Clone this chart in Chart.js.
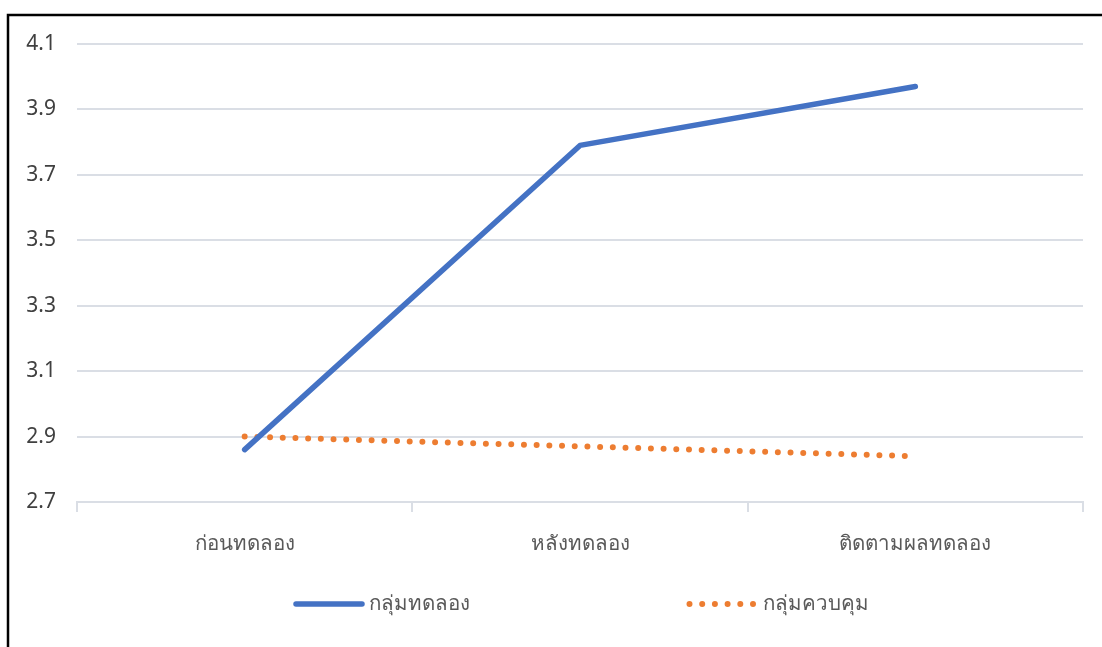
<!DOCTYPE html>
<html>
<head>
<meta charset="utf-8">
<script src="https://cdn.jsdelivr.net/npm/chart.js@4"></script>
<style>
  html, body { margin: 0; padding: 0; background: #ffffff; }
  #wrap { position: relative; width: 1102px; height: 647px; }
  canvas { display: block; }
</style>
</head>
<body>
<div id="wrap"><canvas id="c" width="1102" height="647"></canvas></div>
<script>
// Mean scores per phase
const categories = ['ก่อนทดลอง', 'หลังทดลอง', 'ติดตามผลทดลอง'];
const experimentalGroup = [2.86, 3.79, 3.97];
const controlGroup = [2.90, 2.87, 2.84];
const seriesNames = ['กลุ่มทดลอง', 'กลุ่มควบคุม'];
const yTicks = [2.7, 2.9, 3.1, 3.3, 3.5, 3.7, 3.9, 4.1];

const FONT = "'Segoe UI', 'Noto Sans', 'DejaVu Sans', sans-serif";
const TEXT = '#595959';
const NUM_TEXT = '#404040';
const GRID = '#dadee5';

// Outer frame (top and left edges) plus a centred legend below the axis
const framePlugin = {
  id: 'frame',
  beforeDraw(chart) {
    const ctx = chart.ctx;
    ctx.save();
    ctx.fillStyle = '#ffffff';
    ctx.fillRect(0, 0, chart.width, chart.height);
    ctx.strokeStyle = '#000000';
    ctx.lineWidth = 2.5;
    ctx.beginPath();
    ctx.moveTo(8, chart.height);
    ctx.lineTo(8, 15);
    ctx.lineTo(chart.width, 15);
    ctx.stroke();
    ctx.restore();
  }
};

const legendPlugin = {
  id: 'bottomLegend',
  afterDraw(chart) {
    const ctx = chart.ctx;
    const area = chart.chartArea;
    const centre = (area.left + area.right) / 2;
    const y = 604;
    const lineLen = 70;
    ctx.save();
    ctx.font = '20.5px ' + FONT;
    ctx.textBaseline = 'middle';
    chart.data.datasets.forEach((ds, i) => {
      const textW = ctx.measureText(ds.label).width;
      const itemW = lineLen + 5 + textW;
      const cx = centre + (i - 0.5) * 396;
      const x0 = cx - itemW / 2;
      ctx.strokeStyle = ds.borderColor;
      ctx.lineWidth = ds.borderWidth;
      ctx.lineCap = ds.borderCapStyle || 'butt';
      ctx.setLineDash(ds.borderDash || []);
      ctx.beginPath();
      ctx.moveTo(x0 + 2, y);
      ctx.lineTo(x0 + lineLen - 2, y);
      ctx.stroke();
      ctx.setLineDash([]);
      ctx.fillStyle = TEXT;
      ctx.textAlign = 'left';
      ctx.fillText(ds.label, x0 + lineLen + 5, y);
    });
    ctx.restore();
  }
};

new Chart(document.getElementById('c'), {
  type: 'line',
  data: {
    labels: categories,
    datasets: [
      {
        label: seriesNames[0],
        data: experimentalGroup,
        borderColor: '#4472C4',
        backgroundColor: '#4472C4',
        borderWidth: 5.5,
        borderCapStyle: 'round',
        borderJoinStyle: 'round',
        pointRadius: 0,
        tension: 0
      },
      {
        label: seriesNames[1],
        data: controlGroup,
        borderColor: '#ED7D31',
        backgroundColor: '#ED7D31',
        borderWidth: 6,
        borderDash: [0, 12.7],
        borderCapStyle: 'round',
        pointRadius: 0,
        tension: 0
      }
    ]
  },
  options: {
    responsive: false,
    animation: false,
    devicePixelRatio: 1,
    layout: { padding: { top: 44, right: 19, left: 0, bottom: 0 } },
    plugins: {
      legend: { display: false },
      tooltip: { enabled: false }
    },
    scales: {
      x: {
        type: 'category',
        offset: true,
        grid: {
          offset: true,
          drawOnChartArea: false,
          drawTicks: true,
          tickLength: 10,
          color: GRID,
          lineWidth: 2
        },
        border: { display: true, color: GRID, width: 2 },
        ticks: {
          color: TEXT,
          font: { family: FONT, size: 20.5 },
          padding: 20,
          maxRotation: 0
        },
        afterFit(scale) { scale.height = 145; }
      },
      y: {
        min: 2.7,
        max: 4.1,
        afterBuildTicks(scale) {
          scale.ticks = yTicks.map(v => ({ value: v }));
        },
        grid: {
          drawTicks: false,
          color: GRID,
          lineWidth: 2
        },
        border: { display: false },
        ticks: {
          color: NUM_TEXT,
          font: { family: FONT, size: 21 },
          padding: 21,
          callback: v => v.toFixed(1)
        },
        afterFit(scale) { scale.width = 77; }
      }
    }
  },
  plugins: [framePlugin, legendPlugin]
});
</script>
</body>
</html>
